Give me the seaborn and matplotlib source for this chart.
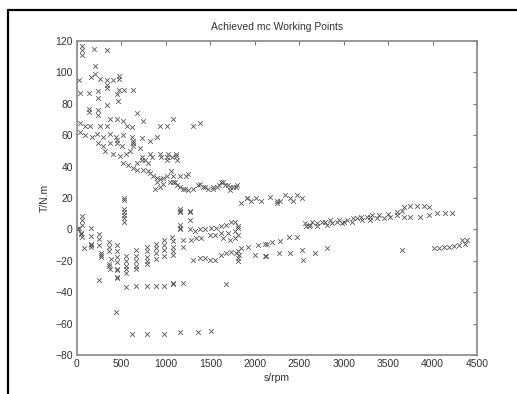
import matplotlib
matplotlib.use("Agg")
import matplotlib.pyplot as plt
from matplotlib.lines import Line2D
import seaborn as sns
import pandas as pd

# ---- data: (speed rpm, torque N.m) ----
upper_rpm = [53, 53, 53, 195, 334,
             26, 154, 203, 203, 259, 342, 402, 477, 470,
             34, 139, 240, 240, 334, 334, 447, 477, 529, 634, 465,
             342, 139, 139, 240, 240,
             34, 90, 146, 259, 334, 372, 447, 522, 559, 616, 672, 739, 935, 1010, 1085, 1310, 1385,
             34, 90, 165, 222, 289, 372, 439, 522, 616, 634, 728, 822, 897,
             240, 297, 372, 447, 447, 503, 634, 634,
             316, 409, 485, 552, 597, 709, 728, 822, 841, 935, 942, 1010, 1028, 1118, 1118, 1070, 1122,
             522, 578, 672, 728, 766, 803, 1010,
             634, 672, 747, 803, 822,
             860, 897, 935, 972, 1010, 1062, 1085, 1156, 1231, 1254,
             897, 972, 1047, 1104, 1122, 1081,
             1160, 1194, 1216, 1254, 1306, 1366, 1381, 1422, 1438, 1475, 1531, 1535, 1580, 1592, 1625,
             1648, 1662, 1704, 1719, 1719, 1760, 1794, 1798,
             878, 935,
             1907, 2019, 1850, 1907, 1963, 2075, 2173, 2248, 2248, 2286, 2342, 2398, 2435, 2473, 2529]
upper_torque = [117, 114, 111, 115, 114,
                95, 97, 104, 99, 96, 95, 95, 96, 98,
                87, 87, 88, 84, 90, 92, 86, 89, 89, 89, 82,
                79, 77, 75, 76, 73,
                68, 66, 66, 66, 66, 70, 70, 69, 66, 65, 74, 69, 66, 66, 70, 66, 68,
                62, 60, 59, 61, 59, 61, 59, 60, 59, 56, 58, 56, 59,
                55, 53, 55, 55, 57, 53, 55, 53,
                50, 48, 47, 48, 50, 52, 46, 48, 46, 48, 46, 46, 48, 48, 47, 46, 44,
                42, 41, 42, 44, 44, 42, 44,
                39, 38, 38, 37, 36,
                34, 33, 32, 33, 34, 37, 34, 34, 34, 35,
                30, 29, 30, 30, 28, 30,
                27, 26, 26, 25, 26, 28, 29, 27, 27, 26, 26, 27, 27, 28, 30,
                30, 28, 28, 27, 25, 27, 27, 28,
                26, 27,
                20, 20, 17, 20, 18, 18, 20.5, 18, 17, 18, 22, 20, 18, 22, 20]

column_rpm = [533, 533, 533, 533, 533, 533, 533,
              1156, 1156, 1156, 1269, 1269, 1269, 1156, 1156, 1156]
column_torque = [20, 19, 13, 11, 9, 7, 5,
                 13, 12, 11, 12, 11, 6, 3, 1, 0.5]

lower_rpm = [5, 15, 20, 60, 42, 45, 60, 79, 154, 154, 154, 160, 154, 248, 248, 248, 267, 267, 267, 248,
             60, 60,
             360, 360, 360, 379, 360, 360, 370,
             454, 454, 454, 454, 454, 454, 454, 454, 435,
             548, 548, 548, 548, 548, 548,
             661, 661, 661, 661, 661, 661,
             791, 791, 791, 791, 791, 791,
             886, 886, 886, 886, 886,
             980, 980, 980, 980, 980,
             1073, 1081, 1081, 1081, 1081, 1081, 1081,
             1194, 1194, 1194,
             623, 791, 980, 1156, 1362, 1512,
             1269, 1325, 1381, 1437, 1512, 1569, 1625, 1681, 1738, 1775, 1813, 1813,
             1287, 1344, 1400, 1494, 1550, 1625, 1700, 1775, 1644, 1719, 1775, 1813,
             1306, 1381, 1437, 1494, 1550, 1625, 1681, 1738, 1794, 1810, 1820, 1813, 1813,
             1850, 1925, 2000, 2038, 2113, 2131, 1681,
             2136, 2192, 2286, 2380, 2473,
             2117, 2267, 2398, 2530, 2680, 2811, 2548]
lower_torque = [0.5, 0, 1, 3, -2.6, -3, -5, -12, 0.6, -4, -9, -10, -11, -3, -6, -10, -15, -16, -17.5, -32,
                8.5, 6,
                -8, -11, -14, -18.6, -22, -23, -25,
                -10, -14, -17.5, -21, -25, -26, -30, -31, -52.6,
                -17, -20, -23, -25, -28, -37,
                -13, -17, -20, -23, -25, -36,
                -11, -14, -17.5, -20, -22, -36,
                -9, -12, -15, -19, -36,
                -7, -10, -13, -17, -36,
                -4.7, -7.7, -11, -14, -16, -34.4, -35,
                -6.6, -11, -34.4,
                -66.5, -66.5, -66.5, -65.4, -65.4, -65,
                0, -1, 0, 0, 1, 1, 2, 3, 5, 5, 1, 2,
                -6.6, -5.6, -5.6, -3.4, -3.4, -2.3, -2.3, -1.3, -5.6, -6.6, -5.6, -3.4,
                -19.5, -18.5, -18, -19.5, -19.5, -16.3, -15.3, -14.2, -15.3, -14, -16, -18.5, -20,
                -12, -11, -16, -10, -9, -17, -35,
                -9.3, -8.2, -7.1, -5, -5,
                -17, -15, -15, -13, -15, -12, -19.5]

high_rpm = [2567, 2605, 2642, 2698, 2755, 2811, 2867, 2924, 2980, 3036, 3093, 3149, 3205, 3261, 3318,
            2580, 2620, 2700, 2790, 2850, 2950, 3000, 3100, 3200, 3300,
            3300, 3375, 3450, 3525, 3600, 3675, 3750, 3862, 3956, 4050, 4143, 4218, 3400, 3500, 3600,
            3656, 3675, 3750, 3825, 3900, 3956,
            3656,
            4013, 4069, 4125, 4181, 4237, 4293, 4331, 4369, 4388]
high_torque = [4, 2, 5, 2, 5, 3, 4, 5, 4, 6, 5, 7, 6, 8, 9,
               2, 3, 4, 5, 6, 6, 5, 7, 8, 8,
               6, 7, 7, 8, 9, 8, 8, 8, 9, 10.5, 10.5, 10.5, 9, 10, 11,
               12, 14, 15, 15, 15, 14,
               -13,
               -12, -12, -11.5, -11, -10.5, -10, -6.6, -9, -7]

x_ticks = [0, 500, 1000, 1500, 2000, 2500, 3000, 3500, 4000, 4500]
y_ticks = [-80, -60, -40, -20, 0, 20, 40, 60, 80, 100, 120]

df = pd.DataFrame({
    "rpm": upper_rpm + column_rpm + lower_rpm + high_rpm,
    "torque": upper_torque + column_torque + lower_torque + high_torque,
})

sns.set_theme(style="white")
plt.rcParams["font.family"] = ["Liberation Sans", "DejaVu Sans"]

fig = plt.figure(figsize=(5.17, 3.94), dpi=100)
ax = fig.add_axes([77 / 517, 1 - 355 / 394, 400 / 517, 314 / 394])

sns.scatterplot(data=df, x="rpm", y="torque", marker="x", color="#555555",
                s=11, linewidth=0.6, ax=ax, legend=False)

ax.set_xlim(0, 4500)
ax.set_ylim(-80, 120)
ax.set_xticks(x_ticks)
ax.set_yticks(y_ticks)
ax.tick_params(direction="in", length=3, width=0.8, colors="#777777",
               labelcolor="#333333", labelsize=7.5, top=True, right=True,
               labeltop=False, labelright=False, pad=3)
for sp in ax.spines.values():
    sp.set_visible(True)
    sp.set_color("#888888")
    sp.set_linewidth(1.2)

ax.set_title("Achieved mc Working Points", fontsize=7.5, color="#333333", pad=8)
ax.set_xlabel("s/rpm", fontsize=7.5, color="#333333", labelpad=3)
ax.set_ylabel("T/N.m", fontsize=7.5, color="#333333", labelpad=4)

# outer frame (top and left edges visible in the crop)
fig.add_artist(Line2D([8 / 517, 1.0], [1 - 10 / 394, 1 - 10 / 394],
                      transform=fig.transFigure, color="black", linewidth=1.6))
fig.add_artist(Line2D([8 / 517, 8 / 517], [0.0, 1 - 10 / 394],
                      transform=fig.transFigure, color="black", linewidth=1.6))

fig.savefig("out.png", dpi=100, facecolor="white")
